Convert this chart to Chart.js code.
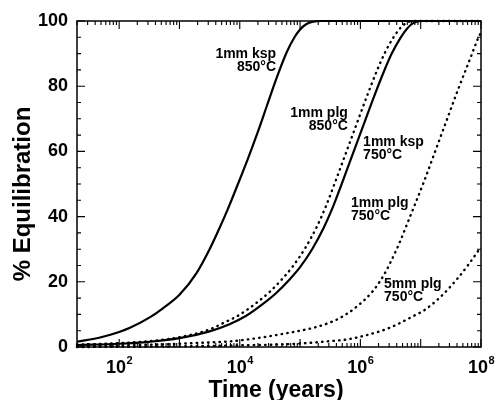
<!DOCTYPE html>
<html><head><meta charset="utf-8">
<script src="https://cdn.jsdelivr.net/npm/chart.js@4/dist/chart.umd.min.js"></script>
<style>html,body{margin:0;padding:0;background:#fff;}canvas{display:block}</style>
</head><body>
<canvas id="c" width="496" height="400"></canvas>
<script>
// ---- axis ranges / tick labels ----
const xMin = 20, xMax = 1e8;
const yMin = 0, yMax = 100;
const xTickExponents = ['2', '4', '6', '8'];
const yTickStep = 20;
const xTitle = 'Time (years)';
const yTitle = '% Equilibration';

// ---- series (time in years, % equilibration) ----
const ksp850Years = [20, 50, 100, 148, 316, 525, 1000, 1905, 3162, 4365, 6310, 9333, 14125, 20417, 28184, 40738, 60256, 79433, 1e5, 125893, 165959, 223872, 1e8];
const ksp850Pct   = [1.6, 3.0, 4.6, 5.8, 9.0, 11.8, 16, 22.6, 30, 35.5, 42.2, 50, 58.5, 66.5, 74, 82.5, 90.5, 94.8, 97.4, 99, 99.8, 100, 100];

const plg850Years = [20, 100, 316, 1000, 3162, 5248, 9772, 19055, 30903, 52481, 77625, 123027, 190546, 275423, 363078, 549541, 891251, 1288250, 1905461, 2570396, 3630781, 4677351, 6025596, 7762471, 1e8];
const plg850Pct   = [0.7, 1.2, 1.8, 3.0, 5.4, 7.3, 9.8, 13.6, 16.8, 21.2, 25, 30.5, 37, 43.7, 49.5, 58.5, 69, 77, 85, 90.4, 95.3, 98, 99.6, 100, 100];

const ksp750Years = [20, 100, 316, 1000, 3162, 6761, 12589, 24547, 39811, 67608, 1e5, 158489, 245471, 354813, 467735, 707946, 1148154, 1659587, 2454709, 3311311, 4677351, 6025596, 7762471, 1e7, 1e8];
const ksp750Pct   = [0.6, 1.0, 1.6, 2.7, 4.8, 7.0, 9.5, 13.3, 16.5, 20.8, 24.5, 30, 36.5, 43.2, 49, 58, 68.5, 76.5, 84.5, 90, 95, 97.8, 99.5, 100, 100];

const plg750Years = [20, 100, 316, 1000, 3162, 6761, 24547, 87096, 158489, 301995, 467735, 794328, 1584893, 2398833, 3162278, 4466836, 6025596, 7943282, 11481536, 17782794, 26915348, 40738028, 63095734, 95499259, 1e8];
const plg750Pct   = [0.3, 0.5, 0.7, 1.0, 1.4, 1.7, 3.0, 4.8, 5.8, 7.4, 9.0, 11.8, 17, 21.8, 26, 32, 38, 43.5, 51, 60.5, 69.5, 78.5, 87.5, 95.8, 96.4];

const plg5mmYears = [20, 1000, 10000, 87096, 316228, 588844, 870964, 2089296, 3162278, 7585776, 11481536, 21379621, 40738028, 63095734, 1e8];
const plg5mmPct   = [0, 0.2, 0.5, 1.0, 1.8, 2.3, 2.9, 4.8, 6.0, 9.5, 11.3, 15.4, 21, 25.5, 30.7];

// ---- curve labels (text + anchor in data units) ----
const labelTexts = [['1mm ksp', '850°C'], ['1mm plg', '850°C'], ['1mm ksp', '750°C'], ['1mm plg', '750°C'], ['5mm plg', '750°C']];
const labelYears = [40000, 620000, 1110000, 700000, 2470000];
const labelPct   = [89.9, 71.8, 62.9, 44.2, 19.3];
const labelAlign = ['right', 'right', 'left', 'left', 'left'];

const FONT = "'Liberation Sans', Arial, Helvetica, sans-serif";
const toXY = (xs, ys) => xs.map((x, i) => ({x: x, y: ys[i]}));

const solid = {borderColor: '#000', borderWidth: 2.2, pointRadius: 0, fill: false, cubicInterpolationMode: 'monotone', clip: false};
const dotted = {borderColor: '#000', borderWidth: 2.4, pointRadius: 0, fill: false, cubicInterpolationMode: 'monotone', borderDash: [0.5, 5.2], borderCapStyle: 'round', clip: false};

const decor = {
  id: 'decor',
  afterDraw(chart) {
    const ctx = chart.ctx, a = chart.chartArea;
    const xs = chart.scales.x, ys = chart.scales.y;
    ctx.save();
    ctx.strokeStyle = '#000';
    ctx.lineWidth = 1.5;
    ctx.strokeRect(a.left, a.top, a.right - a.left, a.bottom - a.top);
    ctx.lineWidth = 1.1;
    ctx.beginPath();
    for (let e = 0; e <= 8; e++) {
      for (let m = 1; m <= 9; m++) {
        const v = m * Math.pow(10, e);
        if (v < xMin || v > xMax * 1.0001) continue;
        const px = xs.getPixelForValue(v);
        const len = m === 1 ? 8 : 4;
        ctx.moveTo(px, a.bottom); ctx.lineTo(px, a.bottom - len);
        ctx.moveTo(px, a.top); ctx.lineTo(px, a.top + len);
      }
    }
    for (let v = yMin; v <= yMax; v += 5) {
      const py = ys.getPixelForValue(v);
      const len = v % yTickStep === 0 ? 8 : 4;
      ctx.moveTo(a.left, py); ctx.lineTo(a.left + len, py);
      ctx.moveTo(a.right, py); ctx.lineTo(a.right - len, py);
    }
    ctx.stroke();

    // x tick labels 10^n
    ctx.fillStyle = '#000';
    ctx.textBaseline = 'alphabetic';
    ctx.textAlign = 'left';
    xTickExponents.forEach(ex => {
      const px = xs.getPixelForValue(Math.pow(10, Number(ex)));
      ctx.font = 'bold 18px ' + FONT;
      const w1 = ctx.measureText('10').width;
      ctx.font = 'bold 11px ' + FONT;
      const w2 = ctx.measureText(ex).width;
      const x0 = px - (w1 + w2) / 2;
      ctx.font = 'bold 18px ' + FONT;
      ctx.fillText('10', x0, a.bottom + 26);
      ctx.font = 'bold 11px ' + FONT;
      ctx.fillText(ex, x0 + w1 + 0.5, a.bottom + 17);
    });

    // axis titles
    ctx.font = 'bold 23px ' + FONT;
    ctx.textAlign = 'center';
    ctx.fillText(xTitle, (a.left + a.right) / 2 - 3, a.bottom + 50);
    ctx.save();
    ctx.translate(30, (a.top + a.bottom) / 2 + 10);
    ctx.rotate(-Math.PI / 2);
    ctx.font = 'bold 24px ' + FONT;
    ctx.fillText(yTitle, 0, 0);
    ctx.restore();

    // curve labels
    ctx.font = 'bold 14px ' + FONT;
    ctx.textBaseline = 'middle';
    labelTexts.forEach((lines, i) => {
      const px = xs.getPixelForValue(labelYears[i]);
      const py = ys.getPixelForValue(labelPct[i]);
      ctx.textAlign = labelAlign[i];
      lines.forEach((t, j) => ctx.fillText(t, px, py + j * 13));
    });
    ctx.restore();
  }
};

new Chart(document.getElementById('c'), {
  type: 'line',
  data: {
    datasets: [
      Object.assign({label: '1mm ksp 850°C', data: toXY(ksp850Years, ksp850Pct)}, solid),
      Object.assign({label: '1mm plg 850°C', data: toXY(plg850Years, plg850Pct)}, dotted),
      Object.assign({label: '1mm ksp 750°C', data: toXY(ksp750Years, ksp750Pct)}, solid),
      Object.assign({label: '1mm plg 750°C', data: toXY(plg750Years, plg750Pct)}, dotted),
      Object.assign({label: '5mm plg 750°C', data: toXY(plg5mmYears, plg5mmPct)}, dotted)
    ]
  },
  options: {
    responsive: false,
    devicePixelRatio: 1,
    animation: false,
    layout: {padding: {top: 21, right: 15, left: 0, bottom: 0}},
    plugins: {legend: {display: false}, tooltip: {enabled: false}},
    scales: {
      x: {
        type: 'logarithmic', min: xMin, max: xMax,
        ticks: {display: false},
        grid: {display: false, drawTicks: false},
        border: {display: false},
        afterFit: s => { s.height = 53; }
      },
      y: {
        type: 'linear', min: yMin, max: yMax,
        ticks: {stepSize: yTickStep, color: '#000', padding: 9, font: {family: FONT, size: 18, weight: 'bold'}},
        grid: {display: false, drawTicks: false},
        border: {display: false},
        afterFit: s => { s.width = 77; }
      }
    }
  },
  plugins: [decor]
});
</script>
</body></html>
